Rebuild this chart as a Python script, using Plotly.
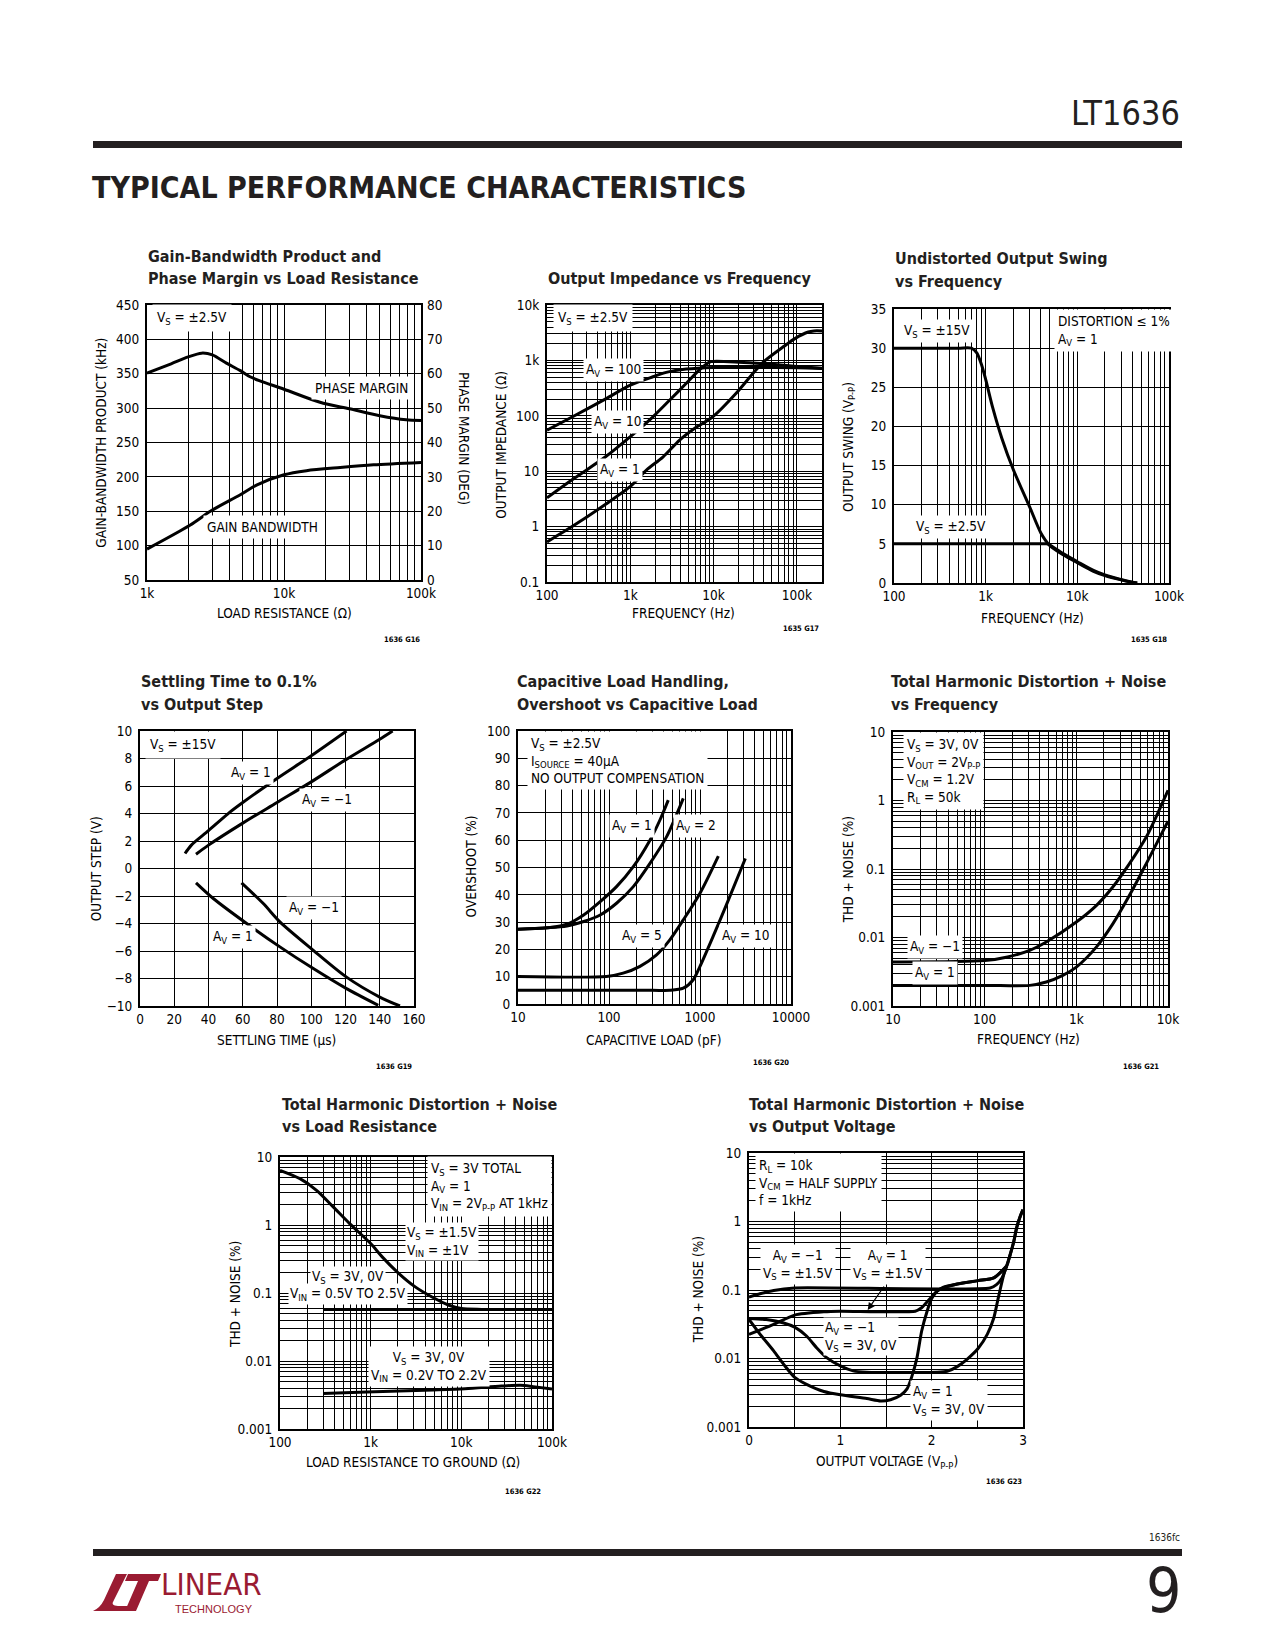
import math
import plotly.graph_objects as go

W, H = 1275, 1650
FONT = "DejaVu Sans Condensed, Liberation Sans Narrow, Arial Narrow, sans-serif"
INK = "#231F20"
RED = "#9A1B32"

# ---------------- data ----------------
# Chart 1: GBW & phase margin vs load resistance
c1_r_pm = [1000, 1500, 2000, 2500, 3000, 3800, 4800, 5600, 6600, 10000, 18300, 30000, 50000, 78000, 100000]
c1_pm = [60.2, 62.9, 64.9, 66.0, 65.5, 63.1, 60.9, 59.2, 58.0, 55.5, 51.7, 49.8, 47.8, 46.6, 46.4]
c1_r_gbw = [1000, 2070, 2900, 4800, 6300, 10000, 14600, 25700, 45000, 100000]
c1_gbw = [95, 130, 150, 174, 188, 203, 209, 213.6, 217.5, 221]

# Chart 2: output impedance vs frequency
c2_f_av1 = [100, 200, 500, 1000, 1560, 2460, 3880, 6000, 9700, 18400, 31800, 41700, 70000, 95500, 137000, 160000, 200000]
c2_z_av1 = [0.53, 1.0, 2.5, 5.3, 10.5, 18, 36, 60, 95, 250, 660, 1000, 1800, 2500, 3250, 3400, 3400]
c2_f_av10 = [100, 200, 500, 1000, 1870, 2960, 4670, 6700, 8800, 10000, 20000, 50000, 100000, 200000]
c2_z_av10 = [3.3, 7.0, 18, 42, 96, 191, 382, 668, 920, 960, 930, 850, 780, 720]
c2_f_av100 = [100, 200, 500, 1000, 1870, 2700, 4700, 10000, 30000, 100000, 200000]
c2_z_av100 = [55, 95, 200, 358, 507, 607, 697, 747, 750, 740, 716]

# Chart 3: undistorted output swing vs frequency
c3_f_15 = [100, 500, 700, 800, 900, 1000, 1200, 1500, 2000, 3000, 4000, 5000, 7000, 10000, 15000, 20000, 30000, 40000, 45000]
c3_v_15 = [30, 30, 30, 29.4, 27.9, 26.0, 22.3, 18.5, 14.5, 9.8, 6.4, 4.8, 3.6, 2.6, 1.5, 0.95, 0.4, 0.08, 0.0]
c3_f_25 = [100, 1000, 4000, 4600, 5000, 7000, 10000, 15000, 20000, 30000, 40000, 45000]
c3_v_25 = [5, 5, 5, 5, 4.85, 3.75, 2.72, 1.6, 1.02, 0.45, 0.1, 0.0]

# Chart 4: settling time vs output step
c4_t_p1 = [26.3, 30, 40, 52.5, 60, 80, 100, 120.6]
c4_v_p1 = [1.09, 1.7, 2.75, 4.1, 4.8, 6.55, 8.2, 10]
c4_t_pm1 = [32.7, 40, 60, 80, 100, 120, 140, 147.5]
c4_v_pm1 = [1.04, 1.7, 3.3, 4.8, 6.3, 7.9, 9.4, 10]
c4_t_n1 = [32.7, 42.8, 62.3, 81.7, 101.2, 120.6, 139.1]
c4_v_n1 = [-1.04, -2.18, -4.0, -5.7, -7.28, -8.74, -9.95]
c4_t_nm1 = [59.3, 72, 81.7, 101.2, 120.6, 140, 151.8]
c4_v_nm1 = [-1.04, -2.55, -3.88, -5.95, -7.9, -9.35, -10]

# Chart 5: overshoot vs capacitive load
c5_c_av1 = [10, 22.6, 34.5, 52.6, 80, 121, 185, 282, 363, 448]
c5_o_av1 = [27.4, 28.0, 29.2, 32.6, 37.5, 43, 50.3, 60, 67.4, 74.7]
c5_c_av2 = [10, 34.5, 52.6, 80, 121, 185, 282, 430, 655]
c5_o_av2 = [27.4, 28.6, 30.2, 32.6, 36.9, 43, 51.5, 61.3, 75.3]
c5_c_av5 = [10, 94, 143, 219, 333, 466, 655, 1000, 1590]
c5_o_av5 = [10.1, 10.1, 11.3, 13.8, 18.0, 23.5, 30.8, 40.6, 54.2]
c5_c_av10 = [10, 300, 466, 655, 843, 1000, 1390, 1950, 3150]
c5_o_av10 = [5.0, 5.0, 5.0, 5.8, 8.9, 13.8, 24.7, 36.3, 53.3]

# Chart 6: THD+N vs frequency
c6_f_m1 = [10, 100, 178, 310, 470, 1000, 1660, 2500, 3800, 5800, 10000]
c6_t_m1 = [0.0044, 0.0046, 0.0052, 0.0065, 0.0086, 0.0168, 0.0295, 0.0546, 0.12, 0.293, 1.41]
c6_f_p1 = [10, 100, 310, 470, 712, 1000, 1660, 2500, 3800, 5800, 10000]
c6_t_p1 = [0.002, 0.002, 0.002, 0.00224, 0.0028, 0.0037, 0.0073, 0.0158, 0.0413, 0.12, 0.497]

# Chart 7: THD+N vs load resistance
c7_r_15 = [100, 166, 253, 386, 586, 1000, 1340, 2050, 3100, 4700, 7300, 10000, 16700, 100000]
c7_t_15 = [6.37, 4.8, 3.24, 1.85, 1.05, 0.533, 0.34, 0.193, 0.123, 0.088, 0.066, 0.059, 0.0574, 0.0574]
c7_r_05 = [300, 100000]
c7_t_05 = [0.0574, 0.0574]
c7_r_02 = [300, 900, 4900, 11000, 27600, 45000, 62000, 100000]
c7_t_02 = [0.00334, 0.0035, 0.00374, 0.0039, 0.00428, 0.0044, 0.0042, 0.00387]

# Chart 8: THD+N vs output voltage
c8_v_a = [0, 0.12, 0.27, 0.50, 2.64, 2.71, 2.77, 2.82, 2.86, 2.90, 2.93, 2.97, 3.0]
c8_t_a = [0.0787, 0.088, 0.0985, 0.107, 0.107, 0.12, 0.15, 0.223, 0.33, 0.515, 0.806, 1.19, 1.49]
c8_v_b = [0, 0.27, 0.50, 0.82, 1.0, 1.82, 1.89, 1.97, 2.06, 2.13, 2.28, 2.51, 2.68, 2.82, 2.86, 2.90, 2.93, 2.97, 3.0]
c8_t_b = [0.0225, 0.0314, 0.043, 0.048, 0.049, 0.049, 0.055, 0.072, 0.096, 0.11, 0.122, 0.137, 0.15, 0.223, 0.33, 0.515, 0.806, 1.19, 1.49]
c8_v_c = [0, 0.19, 0.38, 0.50, 0.63, 0.74, 0.85, 1.0, 1.14, 1.29, 2.06, 2.17, 2.28, 2.39, 2.51, 2.61, 2.68, 2.73, 2.79, 2.82]
c8_t_c = [0.0384, 0.037, 0.033, 0.0287, 0.0213, 0.0144, 0.0103, 0.0078, 0.0066, 0.0063, 0.0063, 0.0065, 0.0076, 0.0098, 0.0141, 0.0227, 0.039, 0.0774, 0.169, 0.223]
c8_v_d = [0, 0.12, 0.27, 0.38, 0.50, 0.63, 0.82, 1.0, 1.29, 1.44, 1.55, 1.66, 1.73, 1.78, 1.84, 1.89, 1.95, 2.0, 2.08, 2.28, 2.51, 2.68, 2.82]
c8_t_d = [0.0372, 0.0227, 0.0129, 0.0082, 0.0053, 0.0042, 0.0033, 0.00295, 0.0026, 0.0024, 0.0025, 0.0029, 0.0036, 0.0053, 0.0104, 0.025, 0.049, 0.075, 0.101, 0.122, 0.137, 0.15, 0.223]

# ---------------- layout helpers ----------------
def X(px):
    return px / W

def Y(py):
    return 1 - py / H

panels = {
    1: (147, 421, 305, 580),
    2: (547, 822, 305, 582),
    3: (894, 1169, 309, 583),
    4: (140, 414, 731, 1006),
    5: (518, 791, 731, 1004),
    6: (893, 1168, 732, 1006),
    7: (280, 552, 1157, 1429),
    8: (749, 1023, 1153, 1427),
}

def logticks(e0, e1, names, extra=()):
    major, text, minor = [], [], []
    for e in range(e0, e1 + 1):
        major.append(10 ** e)
        text.append(names[e])
        if e < e1:
            for d in range(2, 10):
                minor.append(d * 10 ** e)
    minor.extend(extra)
    return major, text, minor

def lin(a, b, s):
    vals, text = [], []
    n = int(round((b - a) / s))
    for k in range(n + 1):
        v = round(a + k * s, 6)
        vals.append(v)
        text.append(("%g" % v).replace("-", "\u2212"))
    return vals, text, []

tickfont = dict(family=FONT, size=13.5, color="black")
base = dict(showline=True, linewidth=2, linecolor="black", mirror=True, showgrid=True,
            gridcolor="black", gridwidth=1, zeroline=False, ticks="", tickfont=tickfont,
            fixedrange=True, tickmode="array", automargin=False)

axes = {}
def set_axes(i, xtype, xrange, xt, ytype, yrange, yt):
    L, R, T, B = panels[i]
    xa = dict(base, type=xtype, range=xrange, tickvals=xt[0], ticktext=xt[1],
              domain=[X(L), X(R)], anchor="y" if i == 1 else "y%d" % i, ticklabelstandoff=0,
              minor=dict(tickmode="array", tickvals=xt[2], showgrid=True, gridcolor="black",
                         gridwidth=1, ticks=""))
    ya = dict(base, type=ytype, range=yrange, tickvals=yt[0], ticktext=yt[1],
              domain=[Y(B), Y(T)], anchor="x" if i == 1 else "x%d" % i, ticklabelstandoff=3,
              minor=dict(tickmode="array", tickvals=yt[2], showgrid=True, gridcolor="black",
                         gridwidth=1, ticks=""))
    axes["xaxis" if i == 1 else "xaxis%d" % i] = xa
    axes["yaxis" if i == 1 else "yaxis%d" % i] = ya

THD_NAMES = {-3: "0.001", -2: "0.01", -1: "0.1", 0: "1", 1: "10"}
set_axes(1, "log", [3, 5], logticks(3, 5, {3: "1k", 4: "10k", 5: "100k"}),
         "linear", [50, 450], lin(50, 450, 50))
set_axes(2, "log", [2, math.log10(2e5)], logticks(2, 5, {2: "100", 3: "1k", 4: "10k", 5: "100k"}, extra=[2e5]),
         "log", [-1, 4], logticks(-1, 4, {-1: "0.1", 0: "1", 1: "10", 2: "100", 3: "1k", 4: "10k"}))
set_axes(3, "log", [2, 5], logticks(2, 5, {2: "100", 3: "1k", 4: "10k", 5: "100k"}),
         "linear", [0, 35], lin(0, 35, 5))
set_axes(4, "linear", [0, 160], lin(0, 160, 20),
         "linear", [-10, 10], lin(-10, 10, 2))
set_axes(5, "log", [1, 4], logticks(1, 4, {1: "10", 2: "100", 3: "1000", 4: "10000"}),
         "linear", [0, 100], lin(0, 100, 10))
set_axes(6, "log", [1, 4], logticks(1, 4, {1: "10", 2: "100", 3: "1k", 4: "10k"}),
         "log", [-3, 1], logticks(-3, 1, THD_NAMES))
set_axes(7, "log", [2, 5], logticks(2, 5, {2: "100", 3: "1k", 4: "10k", 5: "100k"}),
         "log", [-3, 1], logticks(-3, 1, THD_NAMES))
c8x = lin(0, 3, 1)
set_axes(8, "linear", [0, 3], (c8x[0], c8x[1], [0.5, 1.5, 2.5]),
         "log", [-3, 1], logticks(-3, 1, THD_NAMES))

# right axis of chart 1 (phase margin, degrees)
pm_ticks = lin(0, 80, 10)
axes["yaxis9"] = dict(type="linear", range=[0, 80], tickmode="array",
                      tickvals=pm_ticks[0], ticktext=pm_ticks[1],
                      overlaying="y", side="right", anchor="x", showgrid=False, showline=False,
                      zeroline=False, ticks="", tickfont=tickfont, fixedrange=True,
                      ticklabelstandoff=5, automargin=False)

fig = go.Figure()

def curve(x, y, i, yax=None, width=3, smoothing=0.8):
    fig.add_trace(go.Scatter(
        x=x, y=y, mode="lines",
        line=dict(color="black", width=width, shape="spline", smoothing=smoothing),
        xaxis="x" if i == 1 else "x%d" % i,
        yaxis=yax if yax else ("y" if i == 1 else "y%d" % i),
        showlegend=False, hoverinfo="skip"))

curve(c1_r_gbw, c1_gbw, 1)
curve(c1_r_pm, c1_pm, 1, yax="y9")
curve(c2_f_av1, c2_z_av1, 2)
curve(c2_f_av10, c2_z_av10, 2)
curve(c2_f_av100, c2_z_av100, 2)
curve(c3_f_15, c3_v_15, 3)
curve(c3_f_25, c3_v_25, 3)
curve(c4_t_p1, c4_v_p1, 4)
curve(c4_t_pm1, c4_v_pm1, 4)
curve(c4_t_n1, c4_v_n1, 4)
curve(c4_t_nm1, c4_v_nm1, 4)
curve(c5_c_av1, c5_o_av1, 5)
curve(c5_c_av2, c5_o_av2, 5)
curve(c5_c_av5, c5_o_av5, 5)
curve(c5_c_av10, c5_o_av10, 5)
curve(c6_f_m1, c6_t_m1, 6)
curve(c6_f_p1, c6_t_p1, 6)
curve(c7_r_15, c7_t_15, 7)
curve(c7_r_05, c7_t_05, 7)
curve(c7_r_02, c7_t_02, 7)
curve(c8_v_a, c8_t_a, 8, smoothing=0.6)
curve(c8_v_b, c8_t_b, 8, smoothing=0.6)
curve(c8_v_c, c8_t_c, 8, smoothing=0.6)
curve(c8_v_d, c8_t_d, 8, smoothing=0.6)

annotations = []

def ann(text, x, y, xa="left", ya="middle", size=13.5, bold=False, angle=0,
        color="black", family=FONT, bg=None, pad=0):
    if bold:
        text = "<b>%s</b>" % text
    d = dict(text=text, x=X(x), y=Y(y), xref="paper", yref="paper",
             xanchor=xa, yanchor=ya, showarrow=False, textangle=angle,
             font=dict(family=family, size=size, color=color),
             align=xa if xa in ("left", "right") else "center", borderpad=pad)
    if bg:
        d["bgcolor"] = bg
    annotations.append(d)

def label(text, x, y, xa="left", pad=2):
    # in-plot label on a white patch that hides the grid behind it
    ann(text, x, y, xa=xa, bg="white", pad=pad)

# titles
titles = [
    ("Gain-Bandwidth Product and", 146.7, 256.7), ("Phase Margin vs Load Resistance", 146.7, 279),
    ("Output Impedance vs Frequency", 546.7, 278.3),
    ("Undistorted Output Swing", 894, 258.3), ("vs Frequency", 894, 281.7),
    ("Settling Time to 0.1%", 140, 681.7), ("vs Output Step", 140, 704),
    ("Capacitive Load Handling,", 515.7, 681.7), ("Overshoot vs Capacitive Load", 515.7, 704),
    ("Total Harmonic Distortion + Noise", 890, 681.7), ("vs Frequency", 890, 704),
    ("Total Harmonic Distortion + Noise", 281, 1104), ("vs Load Resistance", 281, 1126),
    ("Total Harmonic Distortion + Noise", 748.3, 1104), ("vs Output Voltage", 748.3, 1126),
]
for t, x, y in titles:
    ann(t, x, y, size=16, bold=True, color=INK)

# axis titles
ann("LOAD RESISTANCE (\u03a9)", 284, 613.3, xa="center")
ann("GAIN-BANDWIDTH PRODUCT (kHz)", 101, 442.7, xa="center", angle=-90)
ann("PHASE MARGIN (DEG)", 464, 439, xa="center", angle=90)
ann("FREQUENCY (Hz)", 683.3, 613.3, xa="center")
ann("OUTPUT IMPEDANCE (\u03a9)", 500.7, 445, xa="center", angle=-90)
ann("FREQUENCY (Hz)", 1032.3, 618.3, xa="center")
ann("OUTPUT SWING (V<sub>P-P</sub>)", 848.3, 446.7, xa="center", angle=-90)
ann("SETTLING TIME (\u00b5s)", 276.7, 1040, xa="center")
ann("OUTPUT STEP (V)", 96, 868.3, xa="center", angle=-90)
ann("CAPACITIVE LOAD (pF)", 654.3, 1040, xa="center")
ann("OVERSHOOT (%)", 470.7, 866.7, xa="center", angle=-90)
ann("FREQUENCY (Hz)", 1028.3, 1039.3, xa="center")
ann("THD + NOISE (%)", 848.3, 870, xa="center", angle=-90)
ann("LOAD RESISTANCE TO GROUND (\u03a9)", 413.3, 1461.7, xa="center")
ann("THD + NOISE (%)", 235, 1295, xa="center", angle=-90)
ann("OUTPUT VOLTAGE (V<sub>P-P</sub>)", 886.7, 1461.7, xa="center")
ann("THD + NOISE (%)", 698.3, 1290, xa="center", angle=-90)

# figure ids
for t, x, y in [("1636 G16", 421, 639.3), ("1635 G17", 820, 628.3), ("1635 G18", 1168.3, 639.3),
                ("1636 G19", 413.3, 1066), ("1636 G20", 790, 1062.7), ("1636 G21", 1160, 1066.7),
                ("1636 G22", 541.7, 1491.7), ("1636 G23", 1023.3, 1481.7)]:
    ann(t, x, y, xa="right", size=7.5, bold=True)

# in-plot labels
label("V<sub>S</sub> = \u00b12.5V", 152, 318, pad=4)
label("PHASE MARGIN", 311, 387.7, pad=3)
label("GAIN BANDWIDTH", 203, 526.7, pad=3)

label("V<sub>S</sub> = \u00b12.5V", 553, 318, pad=4)
label("A<sub>V</sub> = 100", 613, 370, xa="center")
label("A<sub>V</sub> = 10", 617, 421.7, xa="center")
label("A<sub>V</sub> = 1", 620, 470, xa="center")

label("V<sub>S</sub> = \u00b115V", 901, 331)
label("DISTORTION \u2264 1%<br>A<sub>V</sub> = 1", 1054, 331, pad=3)
label("V<sub>S</sub> = \u00b12.5V", 913, 527)

label("V<sub>S</sub> = \u00b115V", 145, 745, pad=4)
label("A<sub>V</sub> = 1", 250.7, 772.7, xa="center")
label("A<sub>V</sub> = \u22121", 327, 800, xa="center")
label("A<sub>V</sub> = \u22121", 314, 908, xa="center")
label("A<sub>V</sub> = 1", 233, 936.7, xa="center")

label("V<sub>S</sub> = \u00b12.5V<br>I<sub>SOURCE</sub> = 40\u00b5A<br>NO OUTPUT COMPENSATION", 527, 760, pad=3)
label("A<sub>V</sub> = 1", 631.7, 825.7, xa="center")
label("A<sub>V</sub> = 2", 695.7, 825.7, xa="center")
label("A<sub>V</sub> = 5", 642.3, 936, xa="center")
label("A<sub>V</sub> = 10", 745, 936, xa="center")

label("V<sub>S</sub> = 3V, 0V<br>V<sub>OUT</sub> = 2V<sub>P-P</sub><br>V<sub>CM</sub> = 1.2V<br>R<sub>L</sub> = 50k",
      903, 771, pad=3)
label("A<sub>V</sub> = \u22121", 907, 946.7)
label("A<sub>V</sub> = 1", 912, 973.3)

label("V<sub>S</sub> = 3V TOTAL<br>A<sub>V</sub> = 1<br>V<sub>IN</sub> = 2V<sub>P-P</sub> AT 1kHz", 427, 1186, pad=3)
label("V<sub>S</sub> = \u00b11.5V<br>V<sub>IN</sub> = \u00b11V", 405, 1241, pad=1)
# two separate lines so the curve crossing the upper-right corner stays visible
label("V<sub>IN</sub> = 0.5V TO 2.5V", 348, 1294, xa="center", pad=1)
label("V<sub>S</sub> = 3V, 0V", 348, 1277, xa="center", pad=1)
label("V<sub>S</sub> = 3V, 0V<br>V<sub>IN</sub> = 0.2V TO 2.2V", 428.5, 1366, xa="center")

label("R<sub>L</sub> = 10k<br>V<sub>CM</sub> = HALF SUPPLY<br>f = 1kHz", 755, 1182, pad=3)
label("A<sub>V</sub> = \u22121<br>V<sub>S</sub> = \u00b11.5V", 798, 1264, xa="center")
label("A<sub>V</sub> = 1<br>V<sub>S</sub> = \u00b11.5V", 888, 1264, xa="center")
label("A<sub>V</sub> = \u22121<br>V<sub>S</sub> = 3V, 0V", 823, 1336, pad=1)
label("A<sub>V</sub> = 1<br>V<sub>S</sub> = 3V, 0V", 910, 1400)
annotations.append(dict(text="", x=X(867.7), y=Y(1310), xref="paper", yref="paper",
                        showarrow=True, ax=17.3, ay=-25, arrowhead=2, arrowsize=1.2,
                        arrowwidth=1.2, arrowcolor="black"))

# page header / footer
ann("LT1636", 1181, 113, xa="right", size=34, color=INK)
ann("TYPICAL PERFORMANCE CHARACTERISTICS", 91, 188, size=30, bold=True, color=INK)
ann("1636fc", 1181, 1537, xa="right", size=10, color=INK)
ann("9", 1182, 1590, xa="right", size=62, color=INK)
ann("LINEAR", 160, 1603, ya="bottom", size=31, color=RED)
ann("TECHNOLOGY", 174, 1602, ya="top", size=11, color=RED, family="Liberation Sans, Arial, sans-serif")

def path(points):
    s = ""
    for cmd, pts in points:
        s += cmd + " " + " ".join("%.5f,%.5f" % (X(a), Y(b)) for a, b in pts) + " "
    return s + "Z"

shapes = [
    dict(type="rect", xref="paper", yref="paper", x0=X(93), x1=X(1182), y0=Y(148), y1=Y(141),
         fillcolor=INK, line=dict(width=0), layer="above"),
    dict(type="rect", xref="paper", yref="paper", x0=X(93), x1=X(1182), y0=Y(1556), y1=Y(1549),
         fillcolor=INK, line=dict(width=0), layer="above"),
    dict(type="path", xref="paper", yref="paper", fillcolor=RED, line=dict(width=0), layer="above",
         path=path([("M", [(116, 1574)]), ("L", [(127, 1574)]), ("L", [(114, 1600)]),
                    ("Q", [(110, 1606), (118, 1606)]), ("L", [(131, 1606)]), ("L", [(128, 1611)]),
                    ("L", [(93, 1611)]), ("Q", [(100, 1608), (104, 1600)])])),
    dict(type="path", xref="paper", yref="paper", fillcolor=RED, line=dict(width=0), layer="above",
         path=path([("M", [(128, 1574)]), ("L", [(161, 1574)]), ("L", [(158, 1581)]),
                    ("L", [(149, 1581)]), ("L", [(136, 1611)]), ("L", [(125, 1611)]),
                    ("L", [(138, 1581)]), ("L", [(125, 1581)])])),
]

fig.update_layout(width=W, height=H, margin=dict(l=0, r=0, t=0, b=0, pad=0, autoexpand=False),
                  autosize=False, paper_bgcolor="white", plot_bgcolor="white", showlegend=False,
                  annotations=annotations, shapes=shapes, **axes)

fig.write_html("out.html", config={"displayModeBar": False, "responsive": False},
               post_script="document.body.style.margin='0';document.body.style.overflow='hidden';")
